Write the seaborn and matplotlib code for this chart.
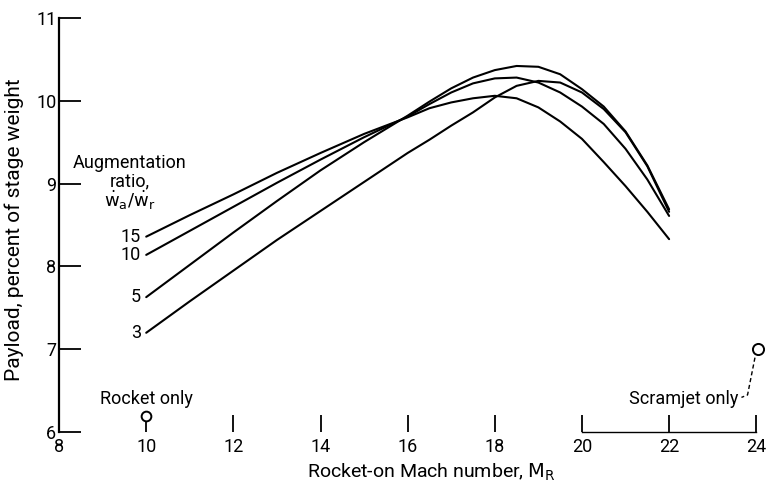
import numpy as np
import pandas as pd
import matplotlib
matplotlib.use("Agg")
import matplotlib.pyplot as plt
import seaborn as sns

# Rocket-on Mach number
mach = [10, 11, 12, 13, 14, 15, 16, 16.5, 17, 17.5, 18, 18.5, 19, 19.5, 20, 20.5, 21, 21.5, 22]

# Payload, percent of stage weight, one list per augmentation ratio
payload_15 = [8.36, 8.62, 8.87, 9.13, 9.37, 9.60, 9.80, 9.91, 9.98, 10.03, 10.06, 10.03, 9.92, 9.75, 9.54, 9.26, 8.97, 8.66, 8.33]
payload_10 = [8.14, 8.43, 8.72, 9.01, 9.29, 9.56, 9.81, 9.96, 10.10, 10.21, 10.27, 10.28, 10.22, 10.10, 9.93, 9.72, 9.42, 9.05, 8.61]
payload_5 = [7.63, 8.02, 8.41, 8.79, 9.16, 9.50, 9.82, 9.99, 10.15, 10.28, 10.37, 10.42, 10.41, 10.32, 10.14, 9.93, 9.63, 9.22, 8.69]
payload_3 = [7.20, 7.58, 7.95, 8.32, 8.67, 9.02, 9.37, 9.53, 9.70, 9.86, 10.04, 10.18, 10.24, 10.22, 10.10, 9.90, 9.62, 9.21, 8.66]

ratios = ["15", "10", "5", "3"]
series = [payload_15, payload_10, payload_5, payload_3]

rocket_only = (10, 6.19)
scramjet_only = (24.05, 7.0)

x_ticks = [8, 10, 12, 14, 16, 18, 20, 22, 24]
y_ticks = [6, 7, 8, 9, 10, 11]

df = pd.DataFrame({
    "mach": mach * len(ratios),
    "payload": sum(series, []),
    "ratio": np.repeat(ratios, len(mach)),
})

sns.set_style("white")
plt.rcParams["font.family"] = ["Roboto", "DejaVu Sans"]
plt.rcParams["mathtext.fontset"] = "dejavusans"
for k in ["text.color", "axes.labelcolor", "xtick.color", "ytick.color"]:
    plt.rcParams[k] = "black"

fig = plt.figure(figsize=(7.67, 4.84), dpi=100)
ax = fig.add_axes([0.077, 0.107, 0.909, 0.856])

sns.lineplot(data=df, x="mach", y="payload", units="ratio", estimator=None,
             color="black", linewidth=1.5, ax=ax, legend=False)

ax.set_xlim(8, 24)
ax.set_ylim(6, 11)
ax.set_xticks(x_ticks)
ax.set_yticks(y_ticks)
ax.tick_params(axis="y", left=True, direction="in", length=16, width=1.3, labelsize=13, pad=2)
ax.tick_params(axis="x", bottom=True, direction="in", length=12, width=1.3, labelsize=13, pad=4)

for side in ["top", "right"]:
    ax.spines[side].set_visible(False)
ax.spines["left"].set_linewidth(1.6)
ax.spines["left"].set_color("black")
ax.spines["bottom"].set_linewidth(1.0)
ax.spines["bottom"].set_color("black")
ax.spines["bottom"].set_bounds(20, 24)

ax.set_xlabel(r"Rocket-on Mach number, $\mathrm{M}_\mathrm{R}$", fontsize=14)
ax.xaxis.set_label_coords(0.534, -0.07)
ax.set_ylabel("Payload, percent of stage weight", fontsize=15)
ax.yaxis.set_label_coords(-0.05, 0.49)

# curve labels
for r, vals in zip(ratios, series):
    ax.text(mach[0] - 0.12, vals[0], r, ha="right", va="center", fontsize=13)

ax.text(9.63, 9.25, "Augmentation", ha="center", va="center", fontsize=13)
ax.text(9.63, 9.03, "ratio,", ha="center", va="center", fontsize=13)
ax.text(9.63, 8.8, r"$\dot{\mathrm{w}}_\mathrm{a}/\dot{\mathrm{w}}_\mathrm{r}$",
        ha="center", va="center", fontsize=13)

# single-mode points
ax.plot(*rocket_only, marker="o", ms=7, mfc="white", mec="black", mew=1.4, clip_on=False, zorder=5)
ax.text(rocket_only[0], 6.40, "Rocket only", ha="center", va="center", fontsize=13)

ax.plot(*scramjet_only, marker="o", ms=8, mfc="white", mec="black", mew=1.4, clip_on=False, zorder=5)
ax.plot([23.97, 23.8, 23.66], [6.9, 6.45, 6.42], color="black", lw=1.0, ls=(0, (3, 2)), clip_on=False)
ax.text(23.6, 6.40, "Scramjet only", ha="right", va="center", fontsize=13)

fig.savefig("out.png", dpi=100)
